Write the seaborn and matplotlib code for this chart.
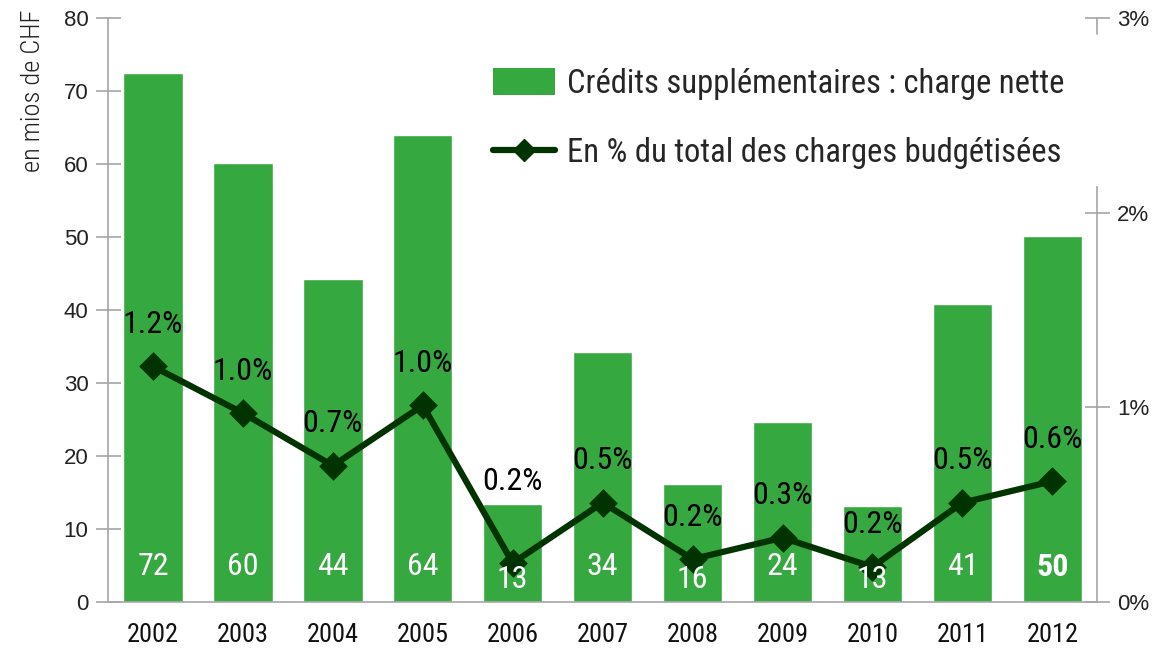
import matplotlib
matplotlib.use("Agg")
import matplotlib.pyplot as plt
import seaborn as sns
from matplotlib.lines import Line2D
from matplotlib.patches import Patch
from matplotlib.ticker import FixedLocator, FuncFormatter

years = ["2002", "2003", "2004", "2005", "2006", "2007", "2008", "2009", "2010", "2011", "2012"]
credits = [72.4, 60.1, 44.2, 64.0, 13.4, 34.3, 16.1, 24.6, 13.2, 40.8, 50.1]
credit_labels = ["72", "60", "44", "64", "13", "34", "16", "24", "13", "41", "50"]
pct = [1.21, 0.97, 0.70, 1.01, 0.20, 0.51, 0.22, 0.33, 0.18, 0.51, 0.62]
pct_labels = ["1.2%", "1.0%", "0.7%", "1.0%", "0.2%", "0.5%", "0.2%", "0.3%", "0.2%", "0.5%", "0.6%"]

sns.set_style("white")
narrow = ["Roboto Condensed", "Liberation Sans Narrow", "DejaVu Sans"]
plt.rcParams["font.family"] = ["Liberation Sans", "DejaVu Sans"]

green = "#36a840"
dark = "#003300"
grey = "#a6a6a6"

fig = plt.figure(figsize=(11.53, 6.55), dpi=100)
ax = fig.add_axes([0.0937, 0.081, 0.858, 0.8915])
sns.barplot(x=years, y=credits, color=green, width=0.66, saturation=1, ax=ax)
ax.set_ylim(0, 80)
ax.set_xlim(-0.5, 10.5)
ax.set_xlabel("")
ax.set_ylabel("")

ax2 = ax.twinx()
sns.pointplot(x=years, y=pct, color=dark, markers="D", markersize=11, linewidth=4.5, ax=ax2)
ax2.set_ylim(0, 3)
ax2.set_xlim(-0.5, 10.5)
ax2.set_ylabel("")

# spines
for a in (ax, ax2):
    a.spines["top"].set_visible(False)
    for s in a.spines.values():
        s.set_color(grey)
        s.set_linewidth(1.2)
ax.spines["right"].set_visible(False)
ax2.spines["left"].set_visible(False)
ax2.spines["bottom"].set_visible(False)
ax2.spines["right"].set_bounds(0, 2.13)
ax2.plot([1, 1], [2.92 / 3, 1], transform=ax2.transAxes, color=grey, lw=1.2, clip_on=False)

# left ticks
ax.set_yticks(range(0, 81, 10))
ax.tick_params(axis="y", direction="inout", length=18, width=1.2, color=grey,
               labelsize=16, pad=5, labelcolor="#222222")
# right ticks
ax2.yaxis.set_major_locator(FixedLocator([0, 1, 2, 3]))
ax2.yaxis.set_major_formatter(FuncFormatter(lambda v, p: f"{int(v)}%"))
ax2.tick_params(axis="y", direction="inout", length=18, width=1.2, color=grey,
                labelsize=16, pad=5, labelcolor="#222222")

# x ticks at category boundaries
ax.set_xticks(range(len(years)))
ax.set_xticklabels(years, fontfamily=narrow, fontsize=19, color="#111111")
ax.tick_params(axis="x", which="major", length=0, pad=15)
ax.xaxis.set_minor_locator(FixedLocator([i - 0.5 for i in range(len(years) + 1)]))
ax.tick_params(axis="x", which="minor", direction="out", length=12, width=1.2, color=grey)
ax2.tick_params(axis="x", which="both", length=0, labelbottom=False)

# white value labels in bars (lower where the line dips into them)
for i, lab in enumerate(credit_labels):
    dy = 22 if years[i] in ("2006", "2008", "2010") else 35
    ax2.annotate(lab, (i, 0), xytext=(0, dy), textcoords="offset pixels",
                 ha="center", va="center", color="white", fontfamily=narrow,
                 fontsize=23, fontweight="bold" if years[i] == "2012" else "normal",
                 zorder=10)

# percentage labels above points
for i, lab in enumerate(pct_labels):
    dy = 82 if years[i] == "2006" else 42
    ax2.annotate(lab, (i, pct[i]), xytext=(0, dy), textcoords="offset pixels",
                 ha="center", va="center", color="black", fontfamily=narrow, fontsize=23)

fig.text(0.018, 0.985, "en mios de CHF", rotation=90, ha="left", va="top",
         fontfamily=narrow, fontsize=19, fontweight="light", color="#222222")

handles = [Patch(facecolor=green, edgecolor="none"),
           Line2D([0], [0], color=dark, lw=4.5, marker="D", markersize=11)]
leg = ax2.legend(handles, ["Crédits supplémentaires : charge nette",
                           "En % du total des charges budgétisées"],
                 loc="upper right", bbox_to_anchor=(0.996, 0.965), frameon=False,
                 prop={"family": narrow, "size": 23.5}, labelspacing=1.15,
                 handlelength=1.9, handleheight=0.9, handletextpad=0.35)

fig.savefig("out.png", dpi=100)
